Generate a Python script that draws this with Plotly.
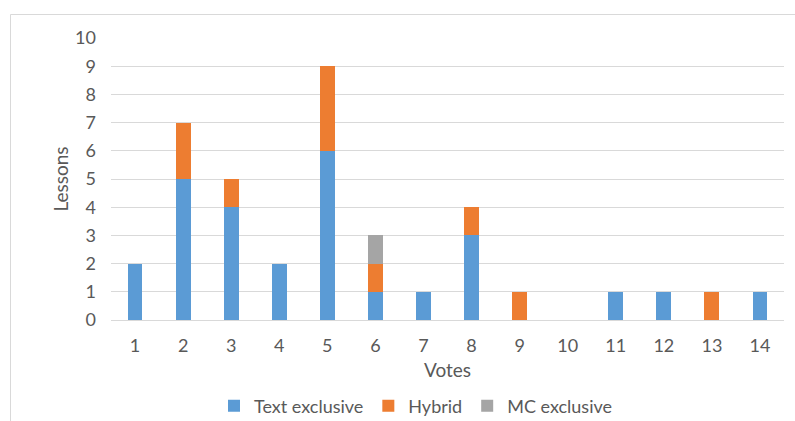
import plotly.graph_objects as go

votes = [1, 2, 3, 4, 5, 6, 7, 8, 9, 10, 11, 12, 13, 14]
text_exclusive = [2, 5, 4, 2, 6, 1, 1, 3, 0, 0, 1, 1, 0, 1]
hybrid = [0, 2, 1, 0, 3, 1, 0, 1, 1, 0, 0, 0, 1, 0]
mc_exclusive = [0, 0, 0, 0, 0, 1, 0, 0, 0, 0, 0, 0, 0, 0]
y_ticks = list(range(0, 11))

FONT = "Lato, 'Open Sans', sans-serif"
TXT = "#595959"

fig = go.Figure()
fig.add_trace(go.Bar(x=votes, y=text_exclusive, name="Text exclusive", marker_color="#5B9BD5", marker_line_width=0))
fig.add_trace(go.Bar(x=votes, y=hybrid, name="Hybrid", marker_color="#ED7D31", marker_line_width=0))
fig.add_trace(go.Bar(x=votes, y=mc_exclusive, name="MC exclusive", marker_color="#A5A5A5", marker_line_width=0))

fig.update_layout(
    barmode="stack",
    bargap=0.69,
    width=795, height=421,
    margin=dict(l=111, r=11, t=38, b=101),
    paper_bgcolor="white", plot_bgcolor="white",
    font=dict(family=FONT, size=18, color=TXT),
    legend=dict(orientation="h", xref="container", yref="container",
                x=416 / 795, xanchor="center", y=1 - 406 / 421, yanchor="middle",
                font=dict(size=18, color=TXT), traceorder="normal", itemwidth=30),
    shapes=[dict(type="rect", xref="paper", yref="paper",
                 x0=(10.5 - 111) / 673, x1=1.1, y0=-0.5, y1=(320 - 14.5) / 282,
                 line=dict(color="#D9D9D9", width=1), fillcolor="rgba(0,0,0,0)", layer="below")],
)
fig.update_xaxes(
    tickvals=votes, ticktext=[str(v) for v in votes], range=[0.5, 14.5], automargin=False,
    showgrid=False, showline=False, zeroline=False, ticks="", ticklabelstandoff=13,
    title=dict(text="Votes", standoff=8, font=dict(size=19, color=TXT)),
)
fig.update_yaxes(
    tickvals=y_ticks, range=[0, 10], showgrid=True, gridcolor="#D9D9D9", gridwidth=1, automargin=False,
    zeroline=True, zerolinecolor="#D9D9D9", zerolinewidth=1, showline=False, ticks="",
    ticklabelstandoff=14,
    title=dict(text="Lessons", standoff=1, font=dict(size=19, color=TXT)),
)

fig.write_html("out.html", config={"displayModeBar": False},
               post_script="document.body.style.margin='0px';")
